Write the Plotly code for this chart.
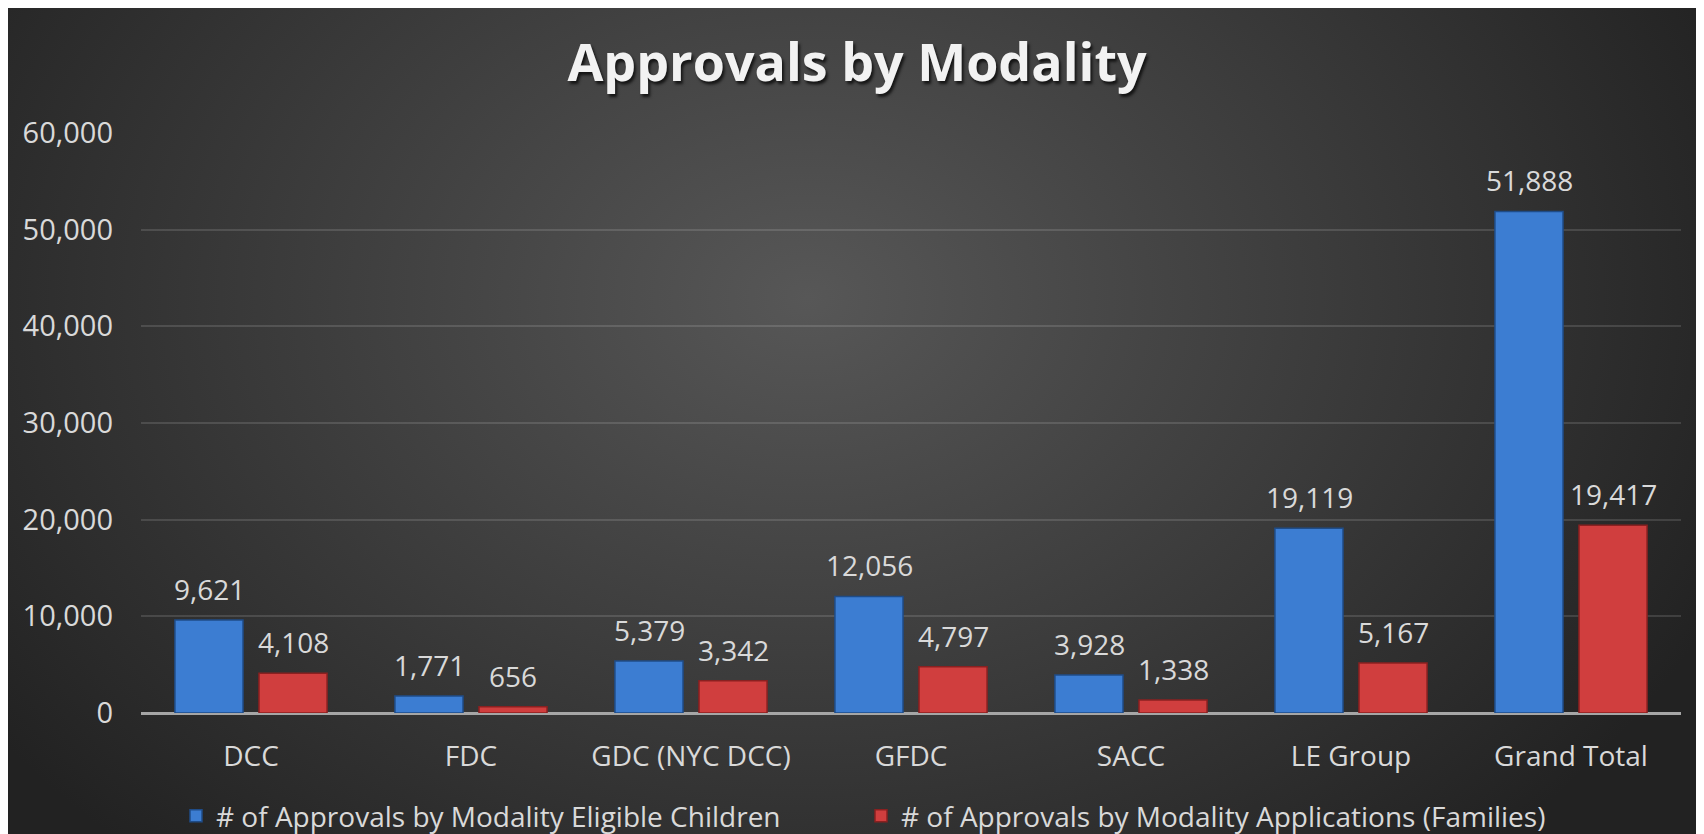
import base64
import plotly.graph_objects as go

categories = ["DCC", "FDC", "GDC (NYC DCC)", "GFDC", "SACC", "LE Group", "Grand Total"]
eligible_children = [9621, 1771, 5379, 12056, 3928, 19119, 51888]
applications_families = [4108, 656, 3342, 4797, 1338, 5167, 19417]
series_names = ["# of Approvals by Modality Eligible Children",
                "# of Approvals by Modality Applications (Families)"]
y_ticks = [0, 10000, 20000, 30000, 40000, 50000, 60000]

W, H = 1704, 834
L, R, T, B = 133, 31, 125, 129
PW, PH = W - L - R, H - T - B

FONT = "Open Sans"
TXT = "#d9d9d9"
BLUE = "#3c7dd2"
RED = "#d03e3e"

fig = go.Figure()
fig.add_trace(go.Bar(x=categories, y=eligible_children, name=series_names[0],
                     marker=dict(color=BLUE, line=dict(color="#1f4c88", width=1.5))))
fig.add_trace(go.Bar(x=categories, y=applications_families, name=series_names[1],
                     marker=dict(color=RED, line=dict(color="#8a2020", width=1.5))))

annotations = []
for series, shift in ((eligible_children, -42), (applications_families, 42)):
    for c, v in zip(categories, series):
        annotations.append(dict(x=c, y=v, xref="x", yref="y", text=f"{v:,}",
                                showarrow=False, xshift=shift, yanchor="bottom", yshift=10,
                                font=dict(family=FONT, size=28, color=TXT)))

svg = f'''<svg xmlns="http://www.w3.org/2000/svg" width="{W}" height="{H}" viewBox="0 0 {W} {H}" preserveAspectRatio="none">
<defs><radialGradient id="g" gradientUnits="userSpaceOnUse" cx="800" cy="290" r="1000" gradientTransform="translate(800 290) scale(1 0.75) translate(-800 -290)">
<stop offset="0" stop-color="#575757"/><stop offset="0.55" stop-color="#3a3a3a"/><stop offset="1" stop-color="#222222"/></radialGradient></defs>
<rect x="0" y="0" width="{W}" height="{H}" fill="url(#g)"/></svg>'''
src = "data:image/svg+xml;base64," + base64.b64encode(svg.encode()).decode()

def px2x(px):
    return (px - L) / PW

def py2y(py):
    return (H - B - py) / PH

fig.add_layout_image(dict(source=src, xref="paper", yref="paper",
                          x=px2x(0), y=py2y(0), sizex=W / PW, sizey=H / PH,
                          xanchor="left", yanchor="top", sizing="stretch", layer="below"))

fig.update_layout(
    width=W, height=H,
    margin=dict(l=L, r=R, t=T, b=B, autoexpand=False),
    paper_bgcolor="#2a2a2a", plot_bgcolor="rgba(0,0,0,0)",
    barmode="group", bargap=0.236, bargroupgap=0.19,
    title=dict(text="<b>Approvals by Modality</b>", x=849 / W, xanchor="center",
               y=1 - 55 / H, yanchor="middle",
               font=dict(family=FONT, size=52, color="#f2f2f2",
                         shadow="2px 3px 3px rgba(0,0,0,0.7)")),
    xaxis=dict(showgrid=False, ticks="", ticklabelstandoff=24,
               tickfont=dict(family=FONT, size=28, color=TXT), showline=False),
    yaxis=dict(range=[0, 60000], tickvals=y_ticks, tickformat=",d", ticks="",
               ticklabelstandoff=27, showgrid=True, gridcolor="rgba(255,255,255,0.13)",
               gridwidth=1.5, zeroline=True, zerolinecolor="#a6a6a6", zerolinewidth=2.5,
               tickfont=dict(family=FONT, size=29, color=TXT), showline=False),
    legend=dict(orientation="h", x=px2x(168), xanchor="left", y=py2y(808), yanchor="middle",
                font=dict(family=FONT, size=28, color=TXT), bgcolor="rgba(0,0,0,0)",
                entrywidth=640, traceorder="normal"),
    annotations=annotations,
    showlegend=True,
)

fig.write_html("out.html")
